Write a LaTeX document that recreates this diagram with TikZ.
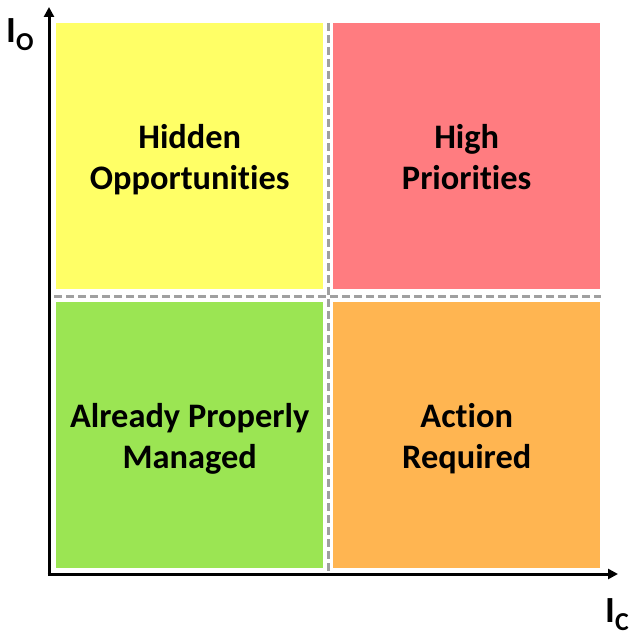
\documentclass[tikz,border=0pt]{standalone}
\usepackage{fontspec}
\setmainfont{Carlito}[Ligatures=NoCommon]
\usetikzlibrary{arrows.meta}
\definecolor{qyellow}{HTML}{FFFF66}
\definecolor{qred}{HTML}{FF7C80}
\definecolor{qgreen}{HTML}{9BE553}
\definecolor{qorange}{HTML}{FFB551}
\definecolor{qgray}{HTML}{A0A0A0}
\tikzset{
  quad/.style={draw=none, minimum width=267bp, minimum height=266bp, inner sep=0pt},
  qtext/.style={inner sep=0pt, yshift=-4.5bp,
    font=\fontsize{34.5}{41}\selectfont\bfseries, align=center},
  axis/.style={line width=3bp, -{Triangle[width=10bp,length=10bp]}},
  divider/.style={draw=qgray, line width=3bp, dash pattern=on 8bp off 4bp},
  axlabel/.style={font=\fontsize{37}{40}\selectfont\bfseries, inner sep=0pt}
}
\begin{document}
\begin{tikzpicture}[x=1bp,y=-1bp]
\useasboundingbox (0,0) rectangle (629,631);
\node[quad, fill=qyellow, anchor=north west,
  label={[qtext]center:\strut Hidden\\Opportunities\strut}] (hid) at (56,23) {};
\node[quad, fill=qred, anchor=north west,
  label={[qtext]center:\strut High\\Priorities\strut}] (high) at (333,23) {};
\node[quad, fill=qgreen, anchor=north west,
  label={[qtext]center:\strut Already Properly\\Managed\strut}] (alr) at (56,302) {};
\node[quad, fill=qorange, anchor=north west,
  label={[qtext]center:\strut Action\\Required\strut}] (act) at (333,302) {};
\coordinate (vtop) at (328,23);
\coordinate (vbot) at (328,573);
\coordinate (hl) at (54,296);
\coordinate (hr) at (601,296);
\draw[divider] (vtop) -- (vbot);
\draw[divider] (hl) -- (hr);
\coordinate (orig) at (49,574);
\coordinate (ytip) at (49,7);
\coordinate (xtip) at (618,574);
\draw[axis] ([yshift=1.5bp]orig) -- (ytip);
\draw[axis] ([xshift=-1.5bp]orig) -- (xtip);
\node[axlabel, anchor=north west] (io) at (6,18) {I\textsubscript{O}};
\node[axlabel, anchor=north west] (ic) at (605,598) {I\textsubscript{C}};
\end{tikzpicture}
\end{document}
